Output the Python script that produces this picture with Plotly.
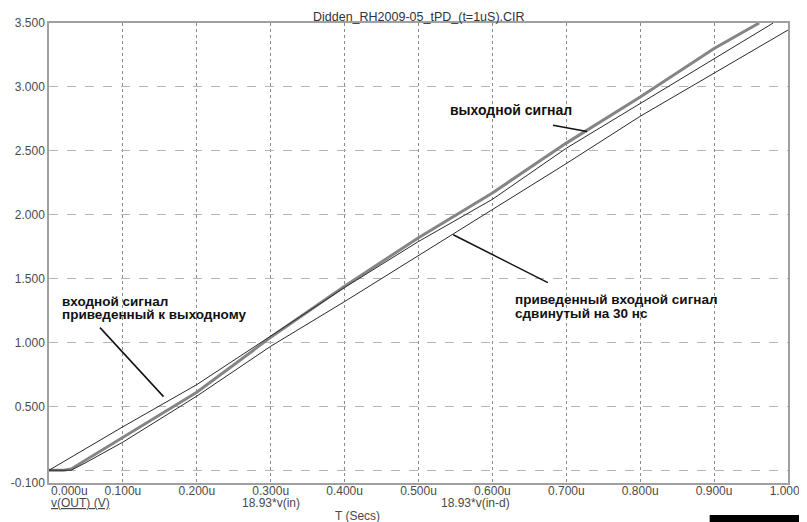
import plotly.graph_objects as go

# ---- data (time in microseconds, volts) ----
t_out = [0.0, 0.02, 0.03, 0.05, 0.1, 0.2, 0.3, 0.4, 0.5, 0.6, 0.7, 0.8, 0.9, 0.961]
v_out = [0.0, 0.0, 0.01, 0.08, 0.255, 0.61, 1.04, 1.44, 1.82, 2.17, 2.56, 2.92, 3.30, 3.5]

t_in = [0.0, 0.1, 0.2, 0.3, 0.4, 0.5, 0.6, 0.7, 0.8, 0.9, 0.98]
v_in = [0.0, 0.34, 0.67, 1.05, 1.43, 1.79, 2.12, 2.52, 2.87, 3.22, 3.5]

t_ind = [0.0, 0.03, 0.05, 0.1, 0.2, 0.3, 0.4, 0.5, 0.6, 0.7, 0.8, 0.9, 1.0]
v_ind = [0.0, 0.0, 0.06, 0.22, 0.58, 0.97, 1.32, 1.68, 2.04, 2.40, 2.77, 3.11, 3.445]

x_ticks = [0.0, 0.1, 0.2, 0.3, 0.4, 0.5, 0.6, 0.7, 0.8, 0.9, 1.0]
x_ticktext = ["", "0.100u", "0.200u", "0.300u", "0.400u", "0.500u",
              "0.600u", "0.700u", "0.800u", "0.900u", "1.000u"]
y_ticks = [-0.1, 0.0, 0.5, 1.0, 1.5, 2.0, 2.5, 3.0, 3.5]
y_ticktext = ["-0.100", "", "0.500", "1.000", "1.500", "2.000", "2.500", "3.000", "3.500"]

title_text = "Didden_RH2009-05_tPD_(t=1uS).CIR"

FONT = "Arial, Liberation Sans, sans-serif"
TXT = "#4a4a4a"

fig = go.Figure()
fig.add_trace(go.Scatter(x=t_out, y=v_out, mode="lines", name="v(OUT) (V)",
                         line=dict(color="#858585", width=3)))
fig.add_trace(go.Scatter(x=t_in, y=v_in, mode="lines", name="18.93*v(in)",
                         line=dict(color="#2a2a2a", width=1)))
fig.add_trace(go.Scatter(x=t_ind, y=v_ind, mode="lines", name="18.93*v(in-d)",
                         line=dict(color="#2a2a2a", width=1)))

ann = []
def label(x, y, text, size=14, bold=True, xanchor="left", color="#111", **kw):
    ann.append(dict(x=x, y=y, xref=kw.pop("xref", "x"), yref=kw.pop("yref", "y"),
                    text=("<b>%s</b>" % text) if bold else text, showarrow=False,
                    xanchor=xanchor, yanchor="middle",
                    font=dict(family=FONT, size=size, color=color), **kw))

# callout labels
label(0.540, 2.82, "выходной сигнал")
label(0.015, 1.318, "входной сигнал", size=13.5)
label(0.015, 1.216, "приведенный к выходному", size=13.5)
label(0.628, 1.335, "приведенный входной сигнал", size=13.5)
label(0.628, 1.225, "сдвинутый на 30 нс", size=13.5)

# bottom texts
label(0.0, 0, "0.000u", size=12, bold=False, color=TXT, yref="paper", yshift=-8)
label(0.0, 0, "<u>v(OUT) (V)</u>", size=12, bold=False, color=TXT, yref="paper", yshift=-20)
label(0.3, 0, "18.93*v(in)", size=12, bold=False, color=TXT, xanchor="center", yref="paper", yshift=-20)
label(0.577, 0, "18.93*v(in-d)", size=12, bold=False, color=TXT, xanchor="center", yref="paper", yshift=-20)
label(0.417, 0, "T (Secs)", size=12, bold=False, color=TXT, xanchor="center", yref="paper", yshift=-33)
label(0.5, 1, title_text, size=12.5, bold=False, color="#333", xanchor="center",
      xref="paper", yref="paper", yshift=6)

shapes = [
    dict(type="line", x0=0.682, y0=2.70, x1=0.728, y1=2.65, line=dict(color="#111", width=1.5)),
    dict(type="line", x0=0.069, y0=1.116, x1=0.155, y1=0.576, line=dict(color="#111", width=1.5)),
    dict(type="line", x0=0.547, y0=1.843, x1=0.675, y1=1.468, line=dict(color="#111", width=1.5)),
    dict(type="rect", xref="paper", yref="paper", x0=0.894, x1=1.03, y0=-0.09, y1=-0.0696,
         fillcolor="black", line=dict(width=0)),
]

# page body has an 8px default margin, so the figure is sized/offset to compensate
fig.update_layout(
    width=799, height=514,
    margin=dict(l=41, r=19, t=15, b=39, autoexpand=False),
    paper_bgcolor="white", plot_bgcolor="white",
    showlegend=False,
    annotations=ann, shapes=shapes,
    font=dict(family=FONT, size=12, color=TXT),
)
fig.update_xaxes(range=[0, 1.0], tickvals=x_ticks, ticktext=x_ticktext, automargin=False,
                 showgrid=True, gridcolor="#8a8a8a", griddash="dot", gridwidth=1,
                 showline=True, linecolor="#a0a0a0", linewidth=1.5, mirror=True,
                 ticks="", zeroline=False, ticklabelstandoff=-4,
                 tickfont=dict(size=12, color=TXT))
fig.update_yaxes(range=[-0.1, 3.5], tickvals=y_ticks, ticktext=y_ticktext, automargin=False,
                 showgrid=True, gridcolor="#b5b5b5", griddash="dash", gridwidth=1,
                 showline=True, linecolor="#a0a0a0", linewidth=1.5, mirror=True,
                 ticks="", zeroline=False, tickfont=dict(size=12, color=TXT))

fig.write_html("out.html")
